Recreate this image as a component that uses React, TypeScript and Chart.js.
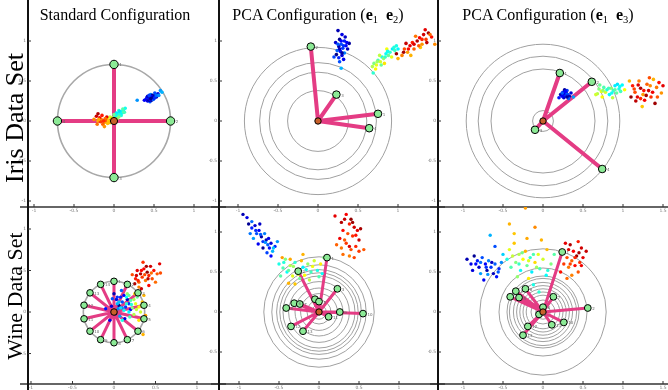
import React, { useEffect, useRef } from 'react';
import { Chart, registerables } from 'chart.js';
Chart.register(...registerables);

type P = [number, number, number];
type N = [number, number];

const xTickValues = [-1, -0.5, 0, 0.5, 1, 1.5];
const yTickValues = [-1, -0.5, 0, 0.5, 1];
const xTickLabels = ['-1', '-0.5', '0', '0.5', '1', '1.5'];
const yTickLabels = ['-1', '-0.5', '0', '0.5', '1'];

// ---------- Iris, standard configuration ----------
const irisStdNodes: N[] = [[0, 0.707], [0.707, 0], [0, -0.707], [-0.707, 0]];
const irisStdRadii = [0.707];
const irisStdPts: P[] = [
  [0.40,0.27,0.05],[0.42,0.25,0.1],[0.44,0.28,0.02],[0.46,0.3,0.15],[0.48,0.29,0.08],[0.5,0.31,0.12],[0.45,0.24,0.2],[0.43,0.3,0.18],[0.47,0.26,0.04],[0.52,0.33,0.1],[0.49,0.27,0.22],[0.41,0.29,0.14],[0.53,0.3,0.06],[0.46,0.33,0.25],[0.44,0.26,0.03],[0.5,0.28,0.16],[0.55,0.34,0.09],[0.38,0.26,0.12],[0.48,0.32,0.01],[0.51,0.35,0.2],
  [0.42,0.31,0.07],[0.45,0.27,0.11],[0.47,0.31,0.13],[0.49,0.3,0.05],[0.51,0.29,0.17],[0.44,0.32,0.19],[0.46,0.28,0.01],[0.53,0.32,0.23],
  [0.58,0.38,0.28],[0.6,0.36,0.3],[0.29,0.26,0.27],[0.56,0.32,0.26],
  [0.02,0.06,0.4],[0.05,0.09,0.38],[0.08,0.1,0.42],[0.1,0.12,0.4],[0.12,0.14,0.37],[0.06,0.13,0.44],[0.03,0.1,0.36],[0.14,0.16,0.39],[0.09,0.07,0.41],[0.11,0.15,0.46],[0.0,0.08,0.48],[-0.02,0.04,0.52],[0.04,0.03,0.55],[0.07,0.12,0.35],[0.13,0.11,0.43],
  [0.04,0.07,0.39],[0.07,0.08,0.41],[0.1,0.1,0.37],[0.12,0.11,0.45],
  [-0.05,0.05,0.58],[0.01,0.02,0.6],[-0.08,0.03,0.62],[0.06,0.05,0.5],
  [-0.2,0.0,0.7],[-0.16,0.02,0.75],[-0.12,-0.02,0.72],[-0.1,0.01,0.8],[-0.07,0.0,0.68],[-0.14,-0.04,0.78],[-0.18,0.04,0.88],[-0.22,0.06,0.92],[-0.2,0.09,0.95],[-0.15,0.07,0.85],[-0.09,0.05,0.9],[-0.05,-0.02,0.7],[-0.25,0.02,0.74],[-0.12,-0.07,0.73],[-0.17,-0.01,0.82],[-0.03,0.03,0.66],
  [-0.11,0.03,0.77],[-0.19,0.02,0.71],[-0.13,0.0,0.83],[-0.08,-0.03,0.69],[-0.21,-0.04,0.76]
];

// ---------- Iris, PCA e1 e2 ----------
const irisE12Nodes: N[] = [[0.75, 0.09], [-0.09, 0.93], [0.23, 0.33], [0.64, -0.09]];
const irisE12Radii = [0.38, 0.61, 0.73, 0.92];
const irisE12Pts: P[] = [
  [0.25,1.13,0.05],[0.3,1.08,0.1],[0.27,1.02,0.02],[0.33,1.0,0.15],[0.22,0.98,0.08],[0.29,0.96,0.2],[0.35,0.94,0.12],[0.26,0.93,0.04],[0.31,0.91,0.18],[0.24,0.88,0.22],[0.37,0.9,0.06],[0.28,0.87,0.14],[0.33,0.85,0.25],[0.23,0.83,0.01],[0.3,0.82,0.09],[0.26,0.79,0.16],[0.32,0.77,0.11],[0.2,0.8,0.19],[0.39,0.97,0.03],[0.27,0.74,0.2],[0.34,1.05,0.07],[0.29,0.66,0.3],
  [0.29,1.0,0.13],[0.27,0.9,0.07],[0.32,0.94,0.17],[0.25,0.96,0.21],[0.3,0.85,0.03],[0.36,0.98,0.11],
  [0.68,0.68,0.55],[0.7,0.72,0.5],[0.73,0.7,0.6],[0.75,0.76,0.45],[0.78,0.74,0.58],[0.8,0.8,0.4],[0.82,0.78,0.52],[0.85,0.84,0.38],[0.88,0.82,0.47],[0.9,0.86,0.42],[0.93,0.9,0.36],[0.96,0.88,0.44],[0.98,0.94,0.4],[0.86,0.9,0.62],[0.72,0.65,0.63],[0.77,0.82,0.56],[0.92,0.8,0.6],[1.0,0.9,0.37],[0.69,0.6,0.42],[0.83,0.72,0.65],
  [0.74,0.74,0.53],[0.79,0.7,0.48],[0.84,0.8,0.43],[0.87,0.87,0.39],[0.95,0.92,0.41],
  [1.0,0.78,0.7],[1.05,0.82,0.75],[1.08,0.9,0.8],[1.12,0.86,0.72],[1.15,0.94,0.9],[1.18,0.98,0.85],[1.2,0.9,0.78],[1.24,1.0,0.95],[1.27,1.04,0.88],[1.3,0.96,0.73],[1.32,1.08,0.92],[1.35,1.02,0.82],[1.38,1.1,0.97],[1.22,1.06,0.76],[1.1,0.97,0.93],[1.28,0.92,0.68],[1.42,1.05,0.86],[1.46,0.96,0.74],[0.98,0.84,0.98],[1.16,0.82,0.7],[1.34,1.14,0.9],
  [1.13,0.9,0.87],[1.2,0.96,0.91],[1.26,0.94,0.79],[1.3,1.02,0.84],[1.36,0.98,0.94],[1.4,1.08,0.77],[1.07,0.86,0.96]
];

// ---------- Iris, PCA e1 e3 ----------
const irisE13Nodes: N[] = [[0.21, 0.6], [0.61, 0.49], [-0.1, -0.11], [0.74, -0.6]];
const irisE13Radii = [0.13, 0.65, 0.81, 0.96];
const irisE13Pts: P[] = [
  [0.22,0.33,0.05],[0.25,0.36,0.1],[0.27,0.31,0.15],[0.29,0.35,0.02],[0.31,0.33,0.2],[0.26,0.29,0.08],[0.24,0.31,0.12],[0.3,0.38,0.18],[0.33,0.31,0.06],[0.28,0.34,0.25],[0.2,0.29,0.14],[0.35,0.35,0.09],[0.27,0.39,0.03],[0.32,0.28,0.22],[0.38,0.3,0.28],
  [0.26,0.34,0.09],[0.29,0.32,0.17],[0.3,0.3,0.03],[0.24,0.35,0.21],[0.28,0.37,0.13],
  [0.68,0.34,0.55],[0.7,0.4,0.5],[0.73,0.37,0.6],[0.76,0.42,0.45],[0.78,0.36,0.58],[0.8,0.39,0.4],[0.83,0.33,0.38],[0.85,0.41,0.52],[0.88,0.38,0.42],[0.9,0.44,0.36],[0.92,0.35,0.47],[0.95,0.4,0.4],[0.97,0.37,0.44],[0.99,0.45,0.37],[1.02,0.39,0.62],[0.74,0.3,0.63],[0.87,0.29,0.56],[0.71,0.45,0.48],[0.66,0.33,0.58],[0.93,0.46,0.35],
  [0.75,0.38,0.52],[0.82,0.41,0.44],[0.86,0.35,0.39],[0.9,0.39,0.46],[0.96,0.43,0.38],
  [1.08,0.5,0.7],[1.12,0.44,0.85],[1.15,0.36,0.8],[1.18,0.3,0.9],[1.2,0.5,0.75],[1.22,0.41,0.95],[1.25,0.33,0.72],[1.27,0.26,0.88],[1.3,0.46,0.78],[1.32,0.38,0.92],[1.35,0.3,0.83],[1.38,0.52,0.7],[1.4,0.22,0.97],[1.42,0.42,0.76],[1.45,0.48,0.86],[1.48,0.35,0.73],[1.24,0.18,0.68],[1.16,0.25,0.94],[1.33,0.54,0.8],[1.5,0.44,0.9],[1.1,0.3,0.98],
  [1.14,0.4,0.81],[1.19,0.45,0.91],[1.26,0.38,0.86],[1.29,0.32,0.96],[1.34,0.44,0.74],[1.37,0.36,0.89],[1.43,0.3,0.79],[1.22,0.28,0.84]
];

// ---------- Wine, standard configuration ----------
const wineStdNodes: N[] = [
  [0, 0.37], [0.161, 0.333], [0.289, 0.231], [0.361, 0.082], [0.361, -0.082], [0.289, -0.231], [0.161, -0.333],
  [0, -0.37], [-0.161, -0.333], [-0.289, -0.231], [-0.361, -0.082], [-0.361, 0.082], [-0.289, 0.231], [-0.161, 0.333]
];
const wineStdRadii = [0.37];
const wineStdPts: P[] = [
  [0.22,0.45,0.8],[0.26,0.4,0.85],[0.28,0.5,0.9],[0.3,0.36,0.78],[0.32,0.46,0.95],[0.34,0.42,0.82],[0.36,0.52,0.88],[0.38,0.38,0.76],[0.4,0.48,0.98],[0.42,0.44,0.84],[0.44,0.55,0.92],[0.46,0.4,0.8],[0.48,0.5,0.86],[0.52,0.46,0.79],[0.55,0.58,0.9],[0.35,0.6,0.83],[0.3,0.3,0.75],[0.25,0.34,0.95],[0.5,0.36,0.77],[0.42,0.32,0.87],[0.56,0.47,0.8],[0.33,0.28,0.93],
  [0.27,0.44,0.92],[0.33,0.5,0.87],[0.37,0.45,0.8],[0.41,0.4,0.94],[0.45,0.47,0.77],[0.39,0.55,0.96],[0.29,0.38,0.84],
  [0.0,0.22,0.05],[0.03,0.15,0.1],[0.06,0.08,0.02],[0.08,0.18,0.15],[0.1,0.12,0.2],[-0.03,0.07,0.08],[0.12,0.2,0.12],[0.05,0.04,0.25],[0.14,0.06,0.18],[0.02,-0.02,0.04],[-0.1,0.04,0.14],[0.09,0.26,0.22],[0.16,0.15,0.06],[-0.05,-0.1,0.1],[0.07,-0.05,0.28],[0.18,0.1,0.16],[0.04,0.1,0.3],[0.13,-0.08,0.09],[-0.02,0.16,0.2],[0.2,0.03,0.12],
  [0.04,0.18,0.17],[0.1,0.05,0.26],[0.06,0.12,0.32],
  [0.12,0.02,0.38],[0.15,0.1,0.42],[0.18,0.0,0.36],[0.2,0.14,0.45],[0.22,0.05,0.5],[0.24,-0.03,0.55],[0.26,0.1,0.6],[0.28,0.18,0.48],[0.1,-0.1,0.4],[0.3,0.06,0.62],[0.32,0.0,0.58],[0.25,0.22,0.66],[0.08,0.05,0.35],[0.34,0.12,0.68],[0.19,-0.06,0.44],[0.36,0.2,0.7],[0.38,-0.04,0.72],[0.3,-0.1,0.65],[0.16,0.22,0.52],[0.35,-0.27,0.7],
  [0.15,0.18,0.38],[0.21,0.09,0.41],[0.18,0.2,0.47],[0.27,0.03,0.57],[0.33,0.08,0.64],[0.24,0.15,0.54]
];

// ---------- Wine, PCA e1 e2 ----------
const wineE12Nodes: N[] = [
  [0.10,0.68],[-0.26,0.51],[0.23,0.29],[-0.05,0.16],[0.0,0.13],[-0.31,0.11],[-0.24,0.10],
  [-0.41,0.05],[0.26,0.0],[0.55,-0.02],[0.12,-0.06],[-0.35,-0.18],[-0.2,-0.24]
];
const wineE12Radii = [0.09, 0.15, 0.23, 0.3, 0.38, 0.45, 0.49, 0.53, 0.59, 0.69];
const wineE12Pts: P[] = [
  [-0.95,1.22,0.05],[-0.9,1.18,0.1],[-0.88,1.1,0.02],[-0.84,1.05,0.15],[-0.8,1.08,0.08],[-0.78,0.98,0.2],[-0.75,1.02,0.12],[-0.72,0.94,0.04],[-0.7,0.88,0.18],[-0.68,0.98,0.25],[-0.66,0.9,0.06],[-0.64,0.84,0.22],[-0.62,0.8,0.14],[-0.6,0.86,0.09],[-0.58,0.76,0.3],[-0.55,0.82,0.16],[-0.82,0.92,0.28],[-0.76,0.85,0.11],[-0.7,0.8,0.03],[-0.65,0.74,0.19],[-0.86,0.98,0.24],[-0.6,0.7,0.13],[-0.52,0.88,0.27],[-0.74,1.1,0.07],
  [-0.79,1.02,0.17],[-0.73,0.97,0.21],[-0.67,0.87,0.27],[-0.63,0.92,0.1],[-0.84,1.13,0.23],[-0.57,0.8,0.32],
  [-0.5,0.6,0.4],[-0.45,0.55,0.45],[-0.42,0.66,0.5],[-0.4,0.5,0.38],[-0.36,0.58,0.55],[-0.33,0.45,0.6],[-0.3,0.62,0.42],[-0.27,0.52,0.66],[-0.24,0.42,0.48],[-0.2,0.56,0.36],[-0.18,0.46,0.62],[-0.14,0.6,0.52],[-0.1,0.5,0.44],[-0.06,0.64,0.58],[-0.02,0.52,0.4],[0.02,0.6,0.64],[0.06,0.68,0.5],[-0.38,0.36,0.7],[-0.3,0.35,0.68],[-0.46,0.68,0.72],[-0.2,0.72,0.7],[0.04,0.48,0.38],[-0.12,0.4,0.56],[-0.48,0.45,0.46],
  [-0.44,0.62,0.41],[-0.38,0.52,0.47],[-0.32,0.57,0.53],[-0.26,0.47,0.57],[-0.16,0.53,0.39],[-0.08,0.57,0.61],[0.0,0.44,0.45],[-0.36,0.66,0.71],[-0.22,0.64,0.69],
  [0.2,1.2,0.9],[0.28,1.12,0.95],[0.34,1.22,0.88],[0.38,1.1,0.85],[0.4,1.16,0.98],[0.44,1.06,0.92],[0.3,1.02,0.87],[0.36,0.98,0.8],[0.42,0.95,0.83],[0.48,1.02,0.9],[0.52,1.04,0.96],[0.22,0.84,0.78],[0.28,0.8,0.76],[0.34,0.86,0.82],[0.4,0.78,0.8],[0.46,0.82,0.84],[0.56,0.78,0.79],[0.3,0.72,0.77],[0.38,0.7,0.75],[0.26,0.92,0.89],[0.5,0.9,0.93],[0.44,0.68,0.81],
  [0.32,1.16,0.93],[0.42,1.12,0.97],[0.46,0.96,0.86],[0.32,0.9,0.79],[0.38,0.82,0.91],[0.5,0.76,0.82]
];

// ---------- Wine, PCA e1 e3 ----------
const wineE13Nodes: N[] = [
  [0.24,0.75],[0.56,0.05],[-0.34,0.26],[-0.41,0.19],[-0.3,0.18],[-0.22,0.29],[0.13,0.19],
  [0.0,0.06],[-0.05,-0.03],[0.26,-0.13],[0.11,-0.16],[-0.19,-0.18],[-0.25,-0.29]
];
const wineE13Radii = [0.09, 0.15, 0.21, 0.25, 0.29, 0.33, 0.37, 0.42, 0.45, 0.55, 0.79];
const wineE13Pts: P[] = [
  [-0.95,0.66,0.05],[-0.9,0.6,0.1],[-0.86,0.7,0.02],[-0.82,0.64,0.15],[-0.8,0.56,0.08],[-0.76,0.68,0.2],[-0.72,0.6,0.12],[-0.7,0.52,0.04],[-0.68,0.64,0.25],[-0.65,0.56,0.18],[-0.62,0.48,0.06],[-0.6,0.6,0.22],[-0.58,0.44,0.14],[-0.88,0.52,0.09],[-0.78,0.48,0.28],[-0.66,0.96,0.3],[-0.55,0.54,0.16],[-0.74,0.4,0.11],[-0.52,0.62,0.26],[-0.6,0.82,0.2],[-0.5,0.72,0.33],
  [-0.84,0.6,0.13],[-0.78,0.62,0.23],[-0.71,0.56,0.17],[-0.64,0.62,0.07],[-0.69,0.47,0.27],[-0.56,0.5,0.21],
  [-0.45,0.66,0.4],[-0.42,0.78,0.6],[-0.4,0.56,0.45],[-0.36,0.86,0.68],[-0.34,0.62,0.5],[-0.3,0.72,0.55],[-0.28,0.52,0.38],[-0.25,0.66,0.62],[-0.22,0.76,0.7],[-0.2,0.58,0.48],[-0.16,0.68,0.42],[-0.14,0.5,0.36],[-0.1,0.62,0.66],[-0.06,0.72,0.6],[-0.04,0.54,0.44],[0.0,0.66,0.58],[0.04,0.46,0.38],[0.1,0.6,0.5],[-0.42,1.1,0.7],[-0.22,1.3,0.72],[-0.1,1.06,0.74],[-0.02,0.9,0.7],[-0.36,0.98,0.68],[-0.12,0.34,0.4],[-0.05,0.25,0.42],[0.14,0.72,0.46],[-0.32,0.44,0.52],[-0.18,0.42,0.64],
  [-0.38,0.7,0.57],[-0.3,0.6,0.43],[-0.26,0.74,0.49],[-0.18,0.64,0.59],[-0.12,0.72,0.45],[-0.08,0.56,0.53],[0.06,0.52,0.41],[-0.2,0.92,0.71],[0.05,0.78,0.69],
  [0.28,0.86,0.9],[0.34,0.84,0.95],[0.44,0.88,0.85],[0.48,0.8,0.92],[0.38,0.76,0.88],[0.42,0.7,0.97],[0.3,0.68,0.8],[0.36,0.64,0.78],[0.46,0.62,0.83],[0.4,0.58,0.87],[0.32,0.56,0.76],[0.26,0.6,0.82],[0.5,0.68,0.9],[0.44,0.5,0.79],[0.36,0.46,0.75],[0.22,0.5,0.86],[0.54,0.76,0.93],[0.3,0.42,0.77],
  [0.32,0.78,0.91],[0.4,0.68,0.84],[0.45,0.74,0.96],[0.34,0.6,0.81],[0.48,0.58,0.89]
];

const PINK = 'rgb(228,60,132)';
const GREEN = 'rgb(140,234,150)';
const CENTER = 'rgb(200,96,42)';
const PAD = 10;

function jet(t: number) {
  const c = (v: number) => Math.round(255 * Math.max(0, Math.min(1, v)));
  return `rgb(${c(1.5 - Math.abs(4 * t - 3))},${c(1.5 - Math.abs(4 * t - 2))},${c(1.5 - Math.abs(4 * t - 1))})`;
}

interface Spec {
  left: number; top: number; right: number; bottom: number;
  xMin: number; xMax: number; yMin: number; yMax: number;
  pts: P[]; nodes: N[]; radii: number[];
  circleColor: string; circleWidth: number; spokeWidth: number;
  nodeRadius: number; centerRadius: number; ptRadius: number;
}

const specs: Spec[] = [
  { left: 28, top: 0, right: 218, bottom: 207, xMin: -1.075, xMax: 1.3, yMin: -1.075, yMax: 1.5125,
    pts: irisStdPts, nodes: irisStdNodes, radii: irisStdRadii, circleColor: '#a8a8a8', circleWidth: 1.6, spokeWidth: 4, nodeRadius: 4.2, centerRadius: 3.6, ptRadius: 1.8 },
  { left: 219, top: 0, right: 437, bottom: 207, xMin: -1.2375, xMax: 1.4875, yMin: -1.075, yMax: 1.5125,
    pts: irisE12Pts, nodes: irisE12Nodes, radii: irisE12Radii, circleColor: '#a0a0a0', circleWidth: 1, spokeWidth: 4, nodeRadius: 3.8, centerRadius: 3.2, ptRadius: 1.8 },
  { left: 438, top: 0, right: 668, bottom: 207, xMin: -1.3125, xMax: 1.5625, yMin: -1.075, yMax: 1.5125,
    pts: irisE13Pts, nodes: irisE13Nodes, radii: irisE13Radii, circleColor: '#a0a0a0', circleWidth: 1, spokeWidth: 4, nodeRadius: 3.8, centerRadius: 3.2, ptRadius: 1.8 },
  { left: 28, top: 207, right: 218, bottom: 384, xMin: -1.036, xMax: 1.253, yMin: -0.867, yMax: 1.265,
    pts: wineStdPts, nodes: wineStdNodes, radii: wineStdRadii, circleColor: '#a8a8a8', circleWidth: 1.6, spokeWidth: 3, nodeRadius: 3.3, centerRadius: 3.3, ptRadius: 1.7 },
  { left: 219, top: 207, right: 437, bottom: 384, xMin: -1.25, xMax: 1.475, yMin: -0.9, yMax: 1.3125,
    pts: wineE12Pts, nodes: wineE12Nodes, radii: wineE12Radii, circleColor: '#a0a0a0', circleWidth: 1, spokeWidth: 3, nodeRadius: 3.4, centerRadius: 3.2, ptRadius: 1.7 },
  { left: 438, top: 207, right: 668, bottom: 384, xMin: -1.3125, xMax: 1.5625, yMin: -0.9, yMax: 1.3125,
    pts: wineE13Pts, nodes: wineE13Nodes, radii: wineE13Radii, circleColor: '#a0a0a0', circleWidth: 1, spokeWidth: 3, nodeRadius: 3.4, centerRadius: 3.2, ptRadius: 1.7 }
];

function decor(spec: Spec) {
  return {
    id: 'decor',
    beforeDatasetsDraw(chart: any) {
      const { ctx } = chart;
      const x = chart.scales.x, y = chart.scales.y;
      const cx = x.getPixelForValue(0), cy = y.getPixelForValue(0);
      ctx.save();
      ctx.strokeStyle = spec.circleColor;
      ctx.lineWidth = spec.circleWidth;
      spec.radii.forEach((r) => {
        const pr = x.getPixelForValue(r) - cx;
        ctx.beginPath();
        ctx.arc(cx, cy, pr, 0, Math.PI * 2);
        ctx.stroke();
      });
      ctx.restore();
    },
    afterDatasetsDraw(chart: any) {
      const { ctx } = chart;
      const x = chart.scales.x, y = chart.scales.y;
      ctx.save();
      ctx.fillStyle = '#666';
      ctx.font = '4px "DejaVu Sans", sans-serif';
      ctx.textBaseline = 'middle';
      spec.nodes.forEach((n, i) => {
        ctx.fillText(String(i + 1), x.getPixelForValue(n[0]) + spec.nodeRadius + 1, y.getPixelForValue(n[1]) + 1);
      });
      ctx.restore();
    },
    afterDraw(chart: any) {
      const { ctx, chartArea } = chart;
      const x = chart.scales.x, y = chart.scales.y;
      ctx.save();
      ctx.strokeStyle = '#333';
      ctx.lineWidth = 1.5;
      ctx.beginPath();
      ctx.moveTo(chartArea.left - 8, chartArea.bottom);
      ctx.lineTo(chartArea.right + 8, chartArea.bottom);
      ctx.stroke();
      ctx.strokeStyle = '#111';
      ctx.lineWidth = 2;
      ctx.beginPath();
      ctx.moveTo(chartArea.left, chartArea.top - 8);
      ctx.lineTo(chartArea.left, chartArea.bottom + 8);
      ctx.stroke();
      ctx.fillStyle = '#777';
      ctx.strokeStyle = '#333';
      ctx.lineWidth = 1;
      ctx.font = '4.5px "DejaVu Sans", sans-serif';
      ctx.textAlign = 'center';
      ctx.textBaseline = 'top';
      xTickValues.forEach((v, i) => {
        if (v < spec.xMin || v > spec.xMax) return;
        const px = x.getPixelForValue(v);
        ctx.beginPath();
        ctx.moveTo(px, chartArea.bottom);
        ctx.lineTo(px, chartArea.bottom - 3);
        ctx.stroke();
        ctx.fillText(xTickLabels[i], px, chartArea.bottom + 2);
      });
      ctx.textAlign = 'right';
      ctx.textBaseline = 'middle';
      yTickValues.forEach((v, i) => {
        if (v < spec.yMin || v > spec.yMax) return;
        const py = y.getPixelForValue(v);
        ctx.beginPath();
        ctx.moveTo(chartArea.left, py);
        ctx.lineTo(chartArea.left + 3, py);
        ctx.stroke();
        ctx.fillText(yTickLabels[i], chartArea.left - 2, py);
      });
      ctx.restore();
    }
  };
}

function Panel({ spec }: { spec: Spec }) {
  const ref = useRef<HTMLCanvasElement>(null);
  const w = spec.right - spec.left + PAD * 2;
  const h = spec.bottom - spec.top + PAD * 2;
  useEffect(() => {
    const spokes: { x: number; y: number }[] = [];
    spec.nodes.forEach((n) => {
      spokes.push({ x: 0, y: 0 });
      spokes.push({ x: n[0], y: n[1] });
    });
    const chart = new Chart(ref.current as HTMLCanvasElement, {
      type: 'scatter',
      data: {
        datasets: [
          {
            type: 'line', data: spokes, borderColor: PINK, borderWidth: spec.spokeWidth,
            pointRadius: 0, showLine: true, fill: false, tension: 0,
            borderJoinStyle: 'round', order: 3
          } as any,
          {
            data: spec.pts.map((p) => ({ x: p[0], y: p[1] })),
            pointBackgroundColor: spec.pts.map((p) => jet(p[2])),
            pointBorderWidth: 0, pointRadius: spec.ptRadius, order: 2
          },
          {
            data: spec.nodes.map((n) => ({ x: n[0], y: n[1] })),
            pointBackgroundColor: GREEN, pointBorderColor: '#000', pointBorderWidth: 1,
            pointRadius: spec.nodeRadius, order: 1
          },
          {
            data: [{ x: 0, y: 0 }], pointBackgroundColor: CENTER, pointBorderColor: '#000',
            pointBorderWidth: 1, pointRadius: spec.centerRadius, order: 0
          }
        ]
      },
      options: {
        animation: false,
        responsive: false,
        events: [],
        layout: { padding: PAD },
        plugins: { legend: { display: false }, tooltip: { enabled: false } },
        scales: {
          x: { type: 'linear', min: spec.xMin, max: spec.xMax, display: false },
          y: { type: 'linear', min: spec.yMin, max: spec.yMax, display: false }
        }
      },
      plugins: [decor(spec)]
    });
    return () => chart.destroy();
  }, []);
  return (
    <canvas
      ref={ref}
      width={w}
      height={h}
      style={{ position: 'absolute', left: spec.left - PAD, top: spec.top - PAD, width: w, height: h }}
    />
  );
}

const serif = '"Liberation Serif", "DejaVu Serif", serif';

function Title({ cx, children }: { cx: number; children: React.ReactNode }) {
  return (
    <div style={{ position: 'absolute', left: cx, top: 6, transform: 'translateX(-50%)', whiteSpace: 'nowrap',
      fontFamily: serif, fontSize: 16, lineHeight: '17px', color: '#000', zIndex: 5 }}>
      {children}
    </div>
  );
}

function RowLabel({ cy, size, text }: { cy: number; size: number; text: string }) {
  return (
    <div style={{ position: 'absolute', left: 15, top: cy, transform: 'translate(-50%,-50%) rotate(-90deg)',
      whiteSpace: 'nowrap', fontFamily: serif, fontSize: size, lineHeight: 1, color: '#000', zIndex: 5 }}>
      {text}
    </div>
  );
}

const subStyle: React.CSSProperties = { fontSize: 10.5, verticalAlign: 'baseline', position: 'relative', top: 3 };

export default function App() {
  return (
    <div style={{ position: 'absolute', left: 0, top: 0, width: 668, height: 390, background: '#fff', overflow: 'hidden' }}>
      {specs.map((s, i) => <Panel key={i} spec={s} />)}
      <Title cx={115}>Standard Configuration</Title>
      <Title cx={318}>PCA Configuration (<b>e</b><span style={subStyle}>1</span>&nbsp;&nbsp;<b>e</b><span style={subStyle}>2</span>)</Title>
      <Title cx={548}>PCA Configuration (<b>e</b><span style={subStyle}>1</span>&nbsp;&nbsp;<b>e</b><span style={subStyle}>3</span>)</Title>
      <RowLabel cy={118} size={26} text="Iris Data Set" />
      <RowLabel cy={296} size={22} text="Wine Data Set" />
    </div>
  );
}
